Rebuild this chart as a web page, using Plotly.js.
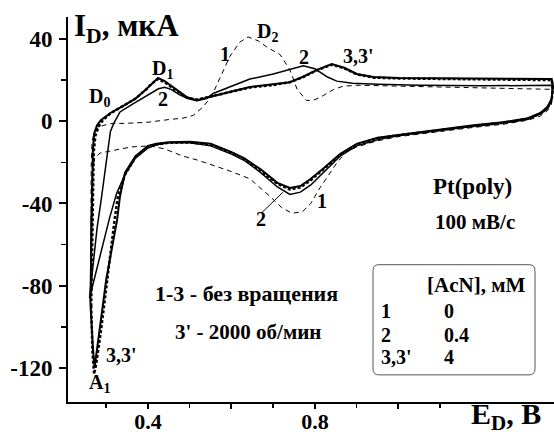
<!DOCTYPE html>
<html>
<head>
<meta charset="utf-8">
<script src="https://cdn.plot.ly/plotly-3.0.1.min.js"></script>
<style>html,body{margin:0;padding:0;background:#fff;}#chart{width:554px;height:435px;}</style>
</head>
<body>
<div id="chart"></div>
<script>
// Curve 1: [AcN] = 0 mM (thin dashed)
const E1 = [0.262,0.263,0.264,0.266,0.272,0.285,0.31,0.35,0.40,0.45,0.484,0.508,0.532,0.552,0.572,0.596,0.62,0.64,0.665,0.685,0.716,0.74,0.757,0.78,0.80,0.82,0.845,0.867,0.9,1.0,1.1,1.2,1.3,1.367,
  1.369,1.366,1.356,1.34,1.31,1.25,1.18,1.1,1.0,0.95,0.9,0.875,0.853,0.83,0.81,0.79,0.77,0.745,0.72,0.692,0.644,0.6,0.565,0.52,0.484,0.44,0.405,0.36,0.31,0.285,0.272,0.266,0.263,0.262];
const I1 = [-88,-50,-22,-10,-5,-2.5,-1.2,-1,-0.5,0.8,1.5,2.8,7,12,20.5,31.5,38.5,41,39,36,32.5,25,15.6,10,10.5,12.5,15.5,17,17.5,17,16.5,16,15.8,15.5,
  12,8,5,2.5,0.5,-1.5,-3,-5,-7.5,-9.5,-12.5,-15,-20,-27,-33,-40,-44,-44.8,-42,-36.5,-28,-24.5,-22,-19,-17,-13.5,-12,-12.5,-14.5,-15.5,-18,-26,-50,-88];

// Curve 2: [AcN] = 0.4 mM (solid)
const E2 = [0.26,0.268,0.278,0.288,0.297,0.304,0.31,0.318,0.333,0.36,0.38,0.40,0.425,0.44,0.455,0.475,0.495,0.517,0.54,0.556,0.6,0.644,0.7,0.74,0.772,0.80,0.83,0.852,0.89,0.95,1.05,1.2,1.367,
  1.369,1.366,1.356,1.34,1.31,1.25,1.18,1.1,1.0,0.95,0.9,0.86,0.82,0.79,0.765,0.74,0.71,0.67,0.63,0.6,0.55,0.5,0.45,0.42,0.40,0.37,0.345,0.325,0.308,0.29,0.26];
const I2 = [-86,-72,-52,-38,-24,-12,-5,-1,4.5,8,10.5,13,15.8,16.5,15.5,13,11,10,11,13.5,17,20.5,23,25.4,27,25.5,21.5,19.5,18.5,18,17.5,17.2,17.5,
  14,9.5,6,3.5,1,-1,-2.5,-4.5,-7,-9,-12,-17,-25,-31,-34.5,-35.6,-32,-25,-19,-16,-12,-10.5,-10.5,-11.5,-13,-18,-26,-35,-47,-62,-86];

// Curve 3: [AcN] = 4 mM, no rotation (solid)
const E3 = [0.262,0.264,0.266,0.268,0.271,0.278,0.287,0.31,0.345,0.37,0.393,0.41,0.424,0.44,0.46,0.493,0.517,0.55,0.6,0.644,0.7,0.74,0.77,0.805,0.84,0.87,0.90,0.94,1.0,1.1,1.2,1.3,1.367,
  1.37,1.367,1.357,1.34,1.31,1.25,1.18,1.1,1.0,0.95,0.9,0.86,0.82,0.79,0.765,0.74,0.71,0.67,0.63,0.6,0.55,0.5,0.45,0.42,0.40,0.37,0.345,0.333,0.326,0.30,0.285,0.275,0.272,0.268,0.262];
const I3 = [-88,-60,-35,-14,-6,-2,0.5,4,8,11,15,18.5,21,19.5,16.6,11.7,10.2,12,14.5,16.6,17.8,19,21.5,25,27.8,26,23,21.5,21,20.8,20.5,20.5,20.5,
  17,11,7,4,1.5,-0.5,-2,-4,-6.5,-8,-11,-16,-23,-28,-31.5,-32.5,-30,-23.4,-18,-15,-11,-10,-10.2,-11,-12,-17,-25,-36.5,-48,-77,-100,-116,-120,-110,-88];

// Curve 3': [AcN] = 4 mM, 2000 rpm (heavy dotted)
const E3p = [0.264,0.266,0.268,0.27,0.274,0.282,0.292,0.31,0.345,0.37,0.393,0.41,0.424,0.44,0.46,0.493,0.517,0.55,0.6,0.644,0.7,0.74,0.77,0.805,0.84,0.87,0.90,0.94,1.0,1.1,1.2,1.3,1.367,
  1.37,1.367,1.357,1.34,1.31,1.25,1.18,1.1,1.0,0.95,0.9,0.86,0.82,0.79,0.765,0.74,0.71,0.67,0.63,0.6,0.55,0.5,0.45,0.42,0.40,0.37,0.345,0.328,0.32,0.302,0.288,0.276,0.271,0.267,0.264];
const I3p = [-90,-60,-35,-15,-7,-2.5,0.5,3.8,8,11,15,18.5,20.5,19,16,11.5,10.5,12,14.3,16.4,17.6,19,21.3,24.8,27.5,25.8,22.8,21.2,20.8,20.5,20.2,20,20,
  16.5,10.5,6.5,3.8,1.2,-0.8,-2.3,-4.2,-6.8,-8.3,-11.3,-16.3,-23.5,-28.7,-32.2,-33.2,-30.5,-24,-18.4,-15.3,-11.3,-10.3,-10.5,-11.3,-12.4,-17.5,-26,-36.5,-48,-78,-101,-118,-123,-112,-90];

// Axis ticks
const xTickVals = [0.4, 0.6, 0.8, 1.0];
const xTickText = ['0.4', ' ', '0.8', ' '];
const xMinorVals = [0.3, 0.5, 0.7, 0.9, 1.1];
const yTickVals = [40, 0, -40, -80, -120];
const yTickText = ['40', '0', '-40', '-80', '-120'];
const yMinorVals = [20, -20, -60, -100];

// Legend table
const legendHeader = '[AcN], мМ';
const legendCurves = ['1', '2', "3,3'"];
const legendConc = ['0', '0.4', '4'];

const serif = 'Liberation Serif, Times New Roman, serif';
const black = '#000';

const traces = [
  {x: E1, y: I1, mode: 'lines', line: {color: black, width: 1, dash: '5px,4px'}},
  {x: E2, y: I2, mode: 'lines', line: {color: black, width: 1.5}},
  {x: E3, y: I3, mode: 'lines', line: {color: black, width: 2}},
  {x: E3p, y: I3p, mode: 'lines', line: {color: black, width: 2.5, dash: '3px,2px'}}
];

function lab(x, y, text, size, opts) {
  return Object.assign({x: x, y: y, xref: 'x', yref: 'y', text: '<b>' + text + '</b>', showarrow: false,
    font: {family: serif, size: size, color: black}}, opts || {});
}

const annotations = [
  lab(0.285, 11.7, 'D<sub>0</sub>', 20),
  lab(0.434, 25.4, 'D<sub>1</sub>', 20),
  lab(0.436, 10.7, '2', 20),
  lab(0.584, 32.7, '1', 20),
  lab(0.687, 43.4, 'D<sub>2</sub>', 20),
  lab(0.774, 31.2, '2', 20),
  lab(0.905, 31.7, "3,3'", 20),
  lab(0.671, -47.8, '2', 20),
  lab(0.817, -39, '1', 20),
  lab(0.336, -113.7, "3,3'", 20),
  lab(0.285, -127.8, 'A<sub>1</sub>', 20),
  lab(1.178, -31.7, 'Pt(poly)', 23),
  lab(1.183, -48.8, '100 мВ/с', 21),
  lab(0.637, -83.9, '1-3 - без вращения', 22),
  lab(0.64, -102.4, "3' - 2000 об/мин", 21),
  lab(1.186, -79.5, legendHeader, 21),
  {x: 0.008, y: 0.971, xref: 'paper', yref: 'paper', xanchor: 'left', yanchor: 'middle', showarrow: false,
    text: '<b>I<sub>D</sub>, мкА</b>', font: {family: serif, size: 31, color: black}},
  {x: 0.978, y: -0.036, xref: 'paper', yref: 'paper', xanchor: 'right', yanchor: 'middle', showarrow: false,
    text: '<b>E<sub>D</sub>, В</b>', font: {family: serif, size: 30, color: black}}
];
const rowY = [-92.2, -103.9, -114.6];
for (let i = 0; i < legendCurves.length; i++) {
  annotations.push(lab(0.956, rowY[i], legendCurves[i], 20, {xanchor: 'left', borderpad: 0}));
  annotations.push(lab(1.107, rowY[i], legendConc[i], 20, {xanchor: 'left', borderpad: 0}));
}

// rounded legend box
const bx0 = 0.939, bx1 = 1.327, by0 = -123.4, by1 = -69.8, rx = 0.014, ry = 2.9;
const boxPath = `M ${bx0+rx},${by1} L ${bx1-rx},${by1} Q ${bx1},${by1} ${bx1},${by1-ry} L ${bx1},${by0+ry} Q ${bx1},${by0} ${bx1-rx},${by0} L ${bx0+rx},${by0} Q ${bx0},${by0} ${bx0},${by0+ry} L ${bx0},${by1-ry} Q ${bx0},${by1} ${bx0+rx},${by1} Z`;

const layout = {
  width: 554, height: 435,
  margin: {l: 68, r: 0, t: 17, b: 33},
  paper_bgcolor: '#fff', plot_bgcolor: '#fff',
  showlegend: false,
  font: {family: serif, color: black},
  xaxis: {
    range: [0.2084, 1.3725], showgrid: false, zeroline: false,
    showline: true, linecolor: black, linewidth: 2,
    ticks: 'outside', ticklen: 5, tickwidth: 2, tickcolor: black,
    tickmode: 'array', tickvals: xTickVals, ticktext: xTickText,
    ticklabelstandoff: -6,
    tickfont: {family: serif, size: 22, color: black, weight: 'bold'},
    minor: {tickmode: 'array', tickvals: xMinorVals, ticks: 'outside', ticklen: 4, tickwidth: 1.5, tickcolor: black, showgrid: false}
  },
  yaxis: {
    range: [-136.6, 50.7], showgrid: false, zeroline: false,
    showline: true, linecolor: black, linewidth: 2,
    ticks: 'outside', ticklen: 7, tickwidth: 2, tickcolor: black,
    tickmode: 'array', tickvals: yTickVals, ticktext: yTickText,
    ticklabelstandoff: 2,
    tickfont: {family: serif, size: 23, color: black, weight: 'bold'},
    minor: {tickmode: 'array', tickvals: yMinorVals, ticks: 'outside', ticklen: 5, tickwidth: 1.5, tickcolor: black, showgrid: false}
  },
  annotations: annotations,
  shapes: [
    {type: 'line', xref: 'x', yref: 'y', x0: 0.673, y0: -44.4, x1: 0.723, y1: -34.6, line: {color: black, width: 1}},
    {type: 'path', xref: 'x', yref: 'y', path: boxPath, line: {color: '#555', width: 1}}
  ]
};

Plotly.newPlot('chart', traces, layout, {staticPlot: true, displayModeBar: false});
</script>
</body>
</html>
